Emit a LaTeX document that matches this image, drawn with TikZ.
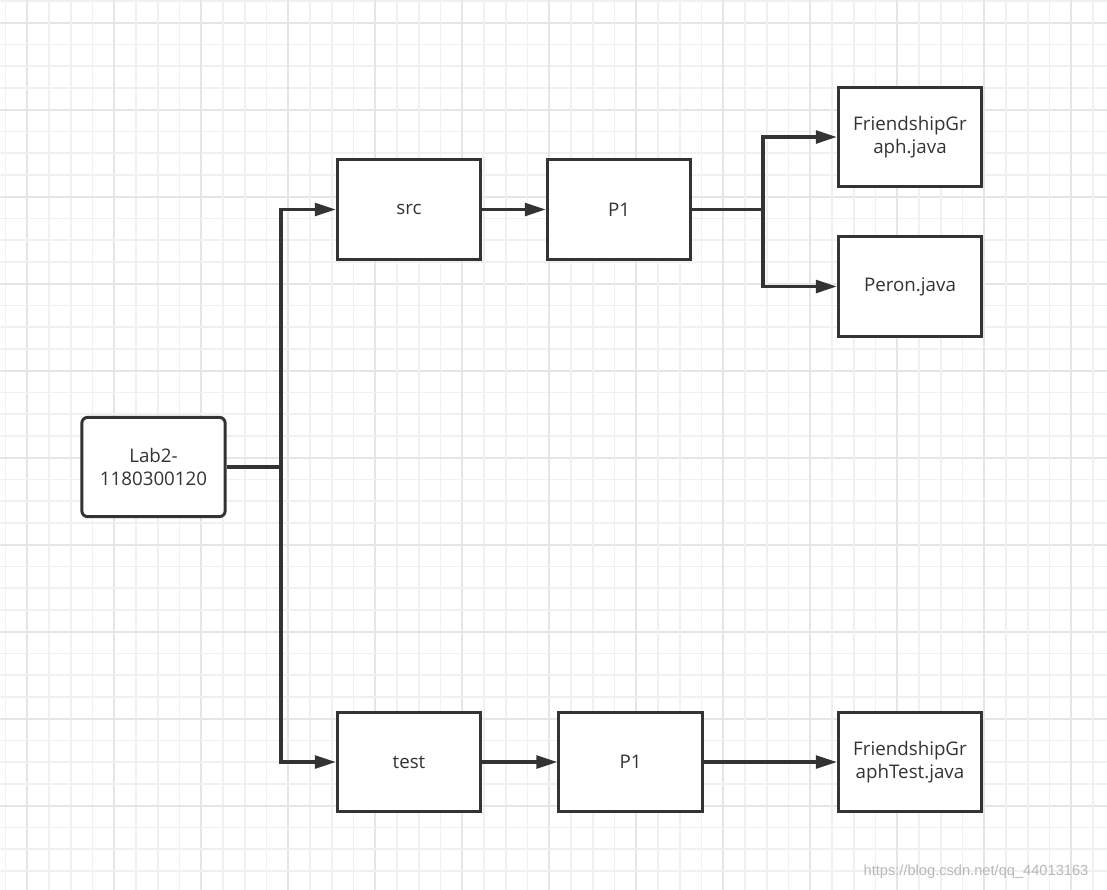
\documentclass[tikz,border=0pt]{standalone}
\usepackage{fontspec}
\setmainfont{Open Sans}
\newfontfamily\markfont{Liberation Sans}
\usepackage{tikz}
\usetikzlibrary{arrows.meta, positioning}
\definecolor{lineGray}{HTML}{333333}
\colorlet{gridMinor}{black!6}
\colorlet{gridMajor}{black!10}
\tikzset{
	filebox/.style={draw=lineGray, line width=2.5pt, fill=white, minimum width=4.3cm,
		minimum height=2.98cm, align=center, text=lineGray, inner sep=0pt,
		font=\fontsize{16}{19.5}\selectfont},
	rootbox/.style={filebox, rounded corners=5pt},
	treeline/.style={draw=lineGray, line width=2.6pt},
	treearr/.style={treeline, -{Triangle[length=18pt, width=11pt]}},
}

\begin{document}
\begin{tikzpicture}[x=0.03cm, y=-0.03cm]
	\useasboundingbox (0,0) rectangle (1107,890);
	\fill[white] (0,0) rectangle (1107,890);

	% background grid, a darker line every fourth cell
	\foreach \k in {0,...,51} {
		\pgfmathsetmacro{\gx}{5.5+21.75*\k}
		\pgfmathsetmacro{\gy}{0.9+21.75*\k}
		\pgfmathtruncatemacro{\major}{mod(\k,4)==1}
		\ifnum\major=1
			\draw[gridMajor, line width=1.6pt] (\gx,0) -- (\gx,890);
			\draw[gridMajor, line width=1.6pt] (0,\gy) -- (1107,\gy);
		\else
			\draw[gridMinor, line width=1.4pt] (\gx,0) -- (\gx,890);
			\draw[gridMinor, line width=1.4pt] (0,\gy) -- (1107,\gy);
		\fi
	}

	\node[rootbox] (lab)   at (153.5,467) {Lab2-\\1180300120};
	\node[filebox] (src)   at (409,209.5) {src};
	\node[filebox] (srcP)  at (619,209.5) {P1};
	\node[filebox] (fg)    at (910,137)   {FriendshipGr\\aph.java};
	\node[filebox] (peron) at (910,286.5) {Peron.java};
	\node[filebox] (test)  at (409,762)   {test};
	\node[filebox] (testP) at (630.5,762) {P1};
	\node[filebox] (fgt)   at (910,762)   {FriendshipGr\\aphTest.java};

	\coordinate (split)  at (281,467);
	\coordinate (splitP) at (763,209.5);

	\draw[treeline] (lab.east) -- (split);
	\draw[treearr] (split) |- (src.west);
	\draw[treearr] (split) |- (test.west);
	\draw[treearr] (src) -- (srcP);
	\draw[treeline] (srcP.east) -- (splitP);
	\draw[treearr] (splitP) |- (fg.west);
	\draw[treearr] (splitP) |- (peron.west);
	\draw[treearr] (test) -- (testP);
	\draw[treearr] (testP) -- (fgt);

	\node[text=black!28, font=\markfont\fontsize{12.5}{14}\selectfont] (mark) at (976,872)
		{https://blog.csdn.net/qq\_44013163};
\end{tikzpicture}
\end{document}
